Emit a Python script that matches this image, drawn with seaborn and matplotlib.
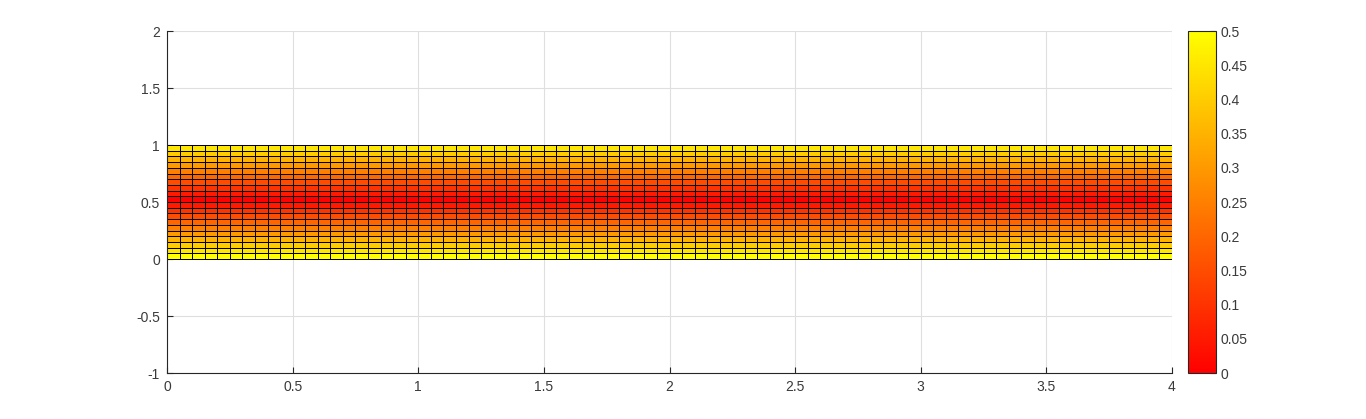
import numpy as np
import matplotlib
matplotlib.use("Agg")
import matplotlib.pyplot as plt
import seaborn as sns

# Data
x_edges = [round(0.05 * i, 2) for i in range(81)]          # 80 columns, 0..4
y_edges = [round(0.05 * i, 2) for i in range(21)]          # 20 rows, 0..1
row_values = [0.50, 0.45, 0.40, 0.35, 0.30, 0.25, 0.20, 0.15, 0.10, 0.05,
              0.00, 0.05, 0.10, 0.15, 0.20, 0.25, 0.30, 0.35, 0.40, 0.45]
x_ticks = [0, 0.5, 1, 1.5, 2, 2.5, 3, 3.5, 4]
x_tick_labels = ["0", "0.5", "1", "1.5", "2", "2.5", "3", "3.5", "4"]
y_ticks = [-1, -0.5, 0, 0.5, 1, 1.5, 2]
y_tick_labels = ["-1", "-0.5", "0", "0.5", "1", "1.5", "2"]
cb_ticks = [0, 0.05, 0.1, 0.15, 0.2, 0.25, 0.3, 0.35, 0.4, 0.45, 0.5]
cb_tick_labels = ["0", "0.05", "0.1", "0.15", "0.2", "0.25", "0.3", "0.35", "0.4", "0.45", "0.5"]

sns.set_theme(style="white")
plt.rcParams["font.family"] = ["Liberation Sans", "DejaVu Sans"]

fig = plt.figure(figsize=(13.66, 4.19), dpi=100)
ax = fig.add_axes([167 / 1366, 46 / 419, 1005 / 1366, 342 / 419])
cax = fig.add_axes([1188 / 1366, 46 / 419, 28 / 1366, 342 / 419])

C = np.tile(np.array(row_values)[:, None], (1, len(x_edges) - 1))
mesh = ax.pcolormesh(np.array(x_edges), np.array(y_edges), C, cmap="autumn",
                     vmin=0, vmax=0.5, edgecolors="black", linewidth=0.7)

ax.set_xlim(0, 4)
ax.set_ylim(-1, 2)
ax.set_xticks(x_ticks)
ax.set_xticklabels(x_tick_labels)
ax.set_yticks(y_ticks)
ax.set_yticklabels(y_tick_labels)
ax.set_axisbelow(True)
ax.grid(True, color="#dfdfdf", linewidth=0.8)
for s in ["top", "right"]:
    ax.spines[s].set_visible(False)
for s in ["left", "bottom"]:
    ax.spines[s].set_color("#262626")
    ax.spines[s].set_linewidth(0.8)
ax.tick_params(axis="both", direction="in", length=4, width=0.8, color="#262626",
               labelsize=10, labelcolor="#3a3a3a", left=True, bottom=True)
ax.tick_params(axis="x", pad=5)
ax.tick_params(axis="y", pad=5)

cb = fig.colorbar(mesh, cax=cax)
cb.set_ticks(cb_ticks)
cb.set_ticklabels(cb_tick_labels)
cb.outline.set_edgecolor("#262626")
cb.outline.set_linewidth(0.8)
cax.tick_params(direction="in", length=4, width=0.8, color="#262626",
                labelsize=10, labelcolor="#3a3a3a", right=True, pad=3)

fig.savefig("out.png", dpi=100, facecolor="white")
